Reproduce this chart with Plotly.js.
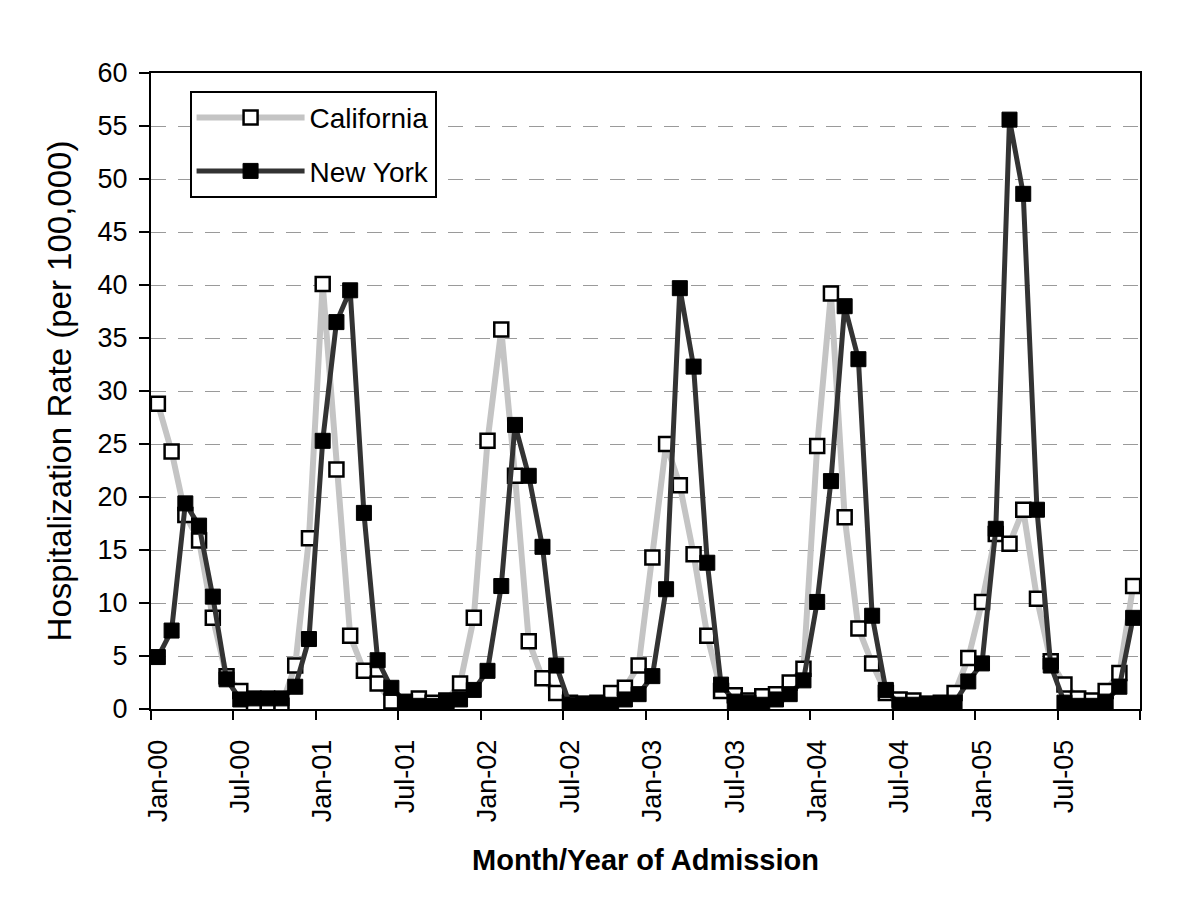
<!DOCTYPE html>
<html>
<head>
<meta charset="utf-8">
<script src="https://cdn.plot.ly/plotly-3.0.1.min.js"></script>
<style>
  html, body { margin: 0; padding: 0; background: #ffffff; }
  #chart { width: 1200px; height: 909px; }
</style>
</head>
<body>
<div id="chart"></div>
<script>
// Month index 0 = Jan-00 ... 71 = Dec-05
const months = Array.from({length: 72}, (_, i) => i);

const tickLabels = ["Jan-00", "Jul-00", "Jan-01", "Jul-01", "Jan-02", "Jul-02",
                    "Jan-03", "Jul-03", "Jan-04", "Jul-04", "Jan-05", "Jul-05"];
const tickPositions = [0, 6, 12, 18, 24, 30, 36, 42, 48, 54, 60, 66];
const boundaryTicks = [-0.5, 5.5, 11.5, 17.5, 23.5, 29.5, 35.5, 41.5, 47.5, 53.5, 59.5, 65.5, 71.5];

const california = [
  28.8, 24.3, 18.3, 15.9, 8.6, 3.1, 1.7, 0.3, 0.3, 0.3, 4.1, 16.1,
  40.1, 22.6, 6.9, 3.6, 2.4, 0.7, 0.6, 1.0, 0.6, 0.8, 2.4, 8.6,
  25.3, 35.8, 22.0, 6.4, 2.9, 1.5, 0.6, 0.5, 0.6, 1.5, 2.0, 4.1,
  14.3, 25.0, 21.1, 14.6, 6.9, 1.7, 1.3, 0.8, 1.2, 1.4, 2.5, 3.8,
  24.8, 39.2, 18.1, 7.6, 4.3, 1.5, 0.9, 0.8, 0.5, 0.6, 1.5, 4.8,
  10.1, 16.5, 15.6, 18.8, 10.4, 4.5, 2.3, 1.0, 0.8, 1.7, 3.4, 11.6
];

const newYork = [
  4.9, 7.4, 19.4, 17.3, 10.6, 2.8, 0.9, 1.0, 1.0, 1.0, 2.1, 6.6,
  25.3, 36.5, 39.5, 18.5, 4.6, 2.0, 0.7, 0.3, 0.3, 0.7, 0.9, 1.8,
  3.6, 11.6, 26.8, 22.0, 15.3, 4.1, 0.4, 0.5, 0.5, 0.4, 0.9, 1.4,
  3.1, 11.3, 39.7, 32.3, 13.8, 2.3, 0.7, 0.6, 0.4, 0.9, 1.4, 2.7,
  10.1, 21.5, 38.0, 33.0, 8.8, 1.8, 0.4, 0.4, 0.5, 0.5, 0.6, 2.6,
  4.3, 17.0, 55.6, 48.6, 18.8, 4.1, 0.6, 0.3, 0.3, 0.7, 2.1, 8.6
];

const seriesNames = ["California", "New York"];

const FONT = "Liberation Sans, Arial, sans-serif";

const traces = [
  {
    x: months, y: california, name: seriesNames[0], legendgroup: "ca",
    type: "scatter", mode: "lines+markers",
    line: {color: "#c4c4c4", width: 6},
    marker: {symbol: "square", size: 14, color: "#ffffff",
             line: {color: "#000000", width: 2.5}}
  },
  {
    x: months, y: newYork, name: seriesNames[1], legendgroup: "ny",
    type: "scatter", mode: "lines+markers",
    line: {color: "#333333", width: 5},
    marker: {symbol: "square", size: 15, color: "#000000",
             line: {color: "#000000", width: 1}}
  }
];

const layout = {
  width: 1200, height: 909,
  paper_bgcolor: "#ffffff", plot_bgcolor: "#ffffff",
  margin: {l: 151, r: 60, t: 73, b: 200},
  font: {family: FONT, color: "#000000", size: 27},
  showlegend: true,
  legend: {
    x: 0.039, y: 0.972, xanchor: "left", yanchor: "top",
    bgcolor: "#ffffff", bordercolor: "#000000", borderwidth: 2,
    font: {family: FONT, size: 28, color: "#000000"},
    itemwidth: 108, tracegroupgap: 14
  },
  xaxis: {
    range: [-0.5, 71.5],
    tickmode: "array", tickvals: tickPositions, ticktext: tickLabels,
    ticks: "", tickangle: -90, ticklabelstandoff: 18,
    tickfont: {family: FONT, size: 27, color: "#000000"},
    showgrid: false, zeroline: false,
    showline: true, linecolor: "#000000", linewidth: 2, mirror: true,
    minor: {tickmode: "array", tickvals: boundaryTicks, ticks: "outside",
            ticklen: 9, tickwidth: 2, tickcolor: "#000000", showgrid: false},
    title: {text: "<b>Month/Year of Admission</b>",
            font: {family: FONT, size: 29, color: "#000000"}, standoff: 28}
  },
  yaxis: {
    range: [0, 60], tickmode: "linear", tick0: 0, dtick: 5,
    ticks: "outside", ticklen: 10, tickwidth: 2, tickcolor: "#000000",
    ticklabelstandoff: 6,
    tickfont: {family: FONT, size: 27, color: "#000000"},
    showgrid: true, gridcolor: "#9a9a9a", gridwidth: 1, griddash: "15px,12px",
    zeroline: false,
    showline: true, linecolor: "#000000", linewidth: 2, mirror: true,
    title: {text: "Hospitalization Rate (per 100,000)",
            font: {family: FONT, size: 33, color: "#000000"}, standoff: 16}
  }
};

Plotly.newPlot("chart", traces, layout, {staticPlot: true, displayModeBar: false});
</script>
</body>
</html>
